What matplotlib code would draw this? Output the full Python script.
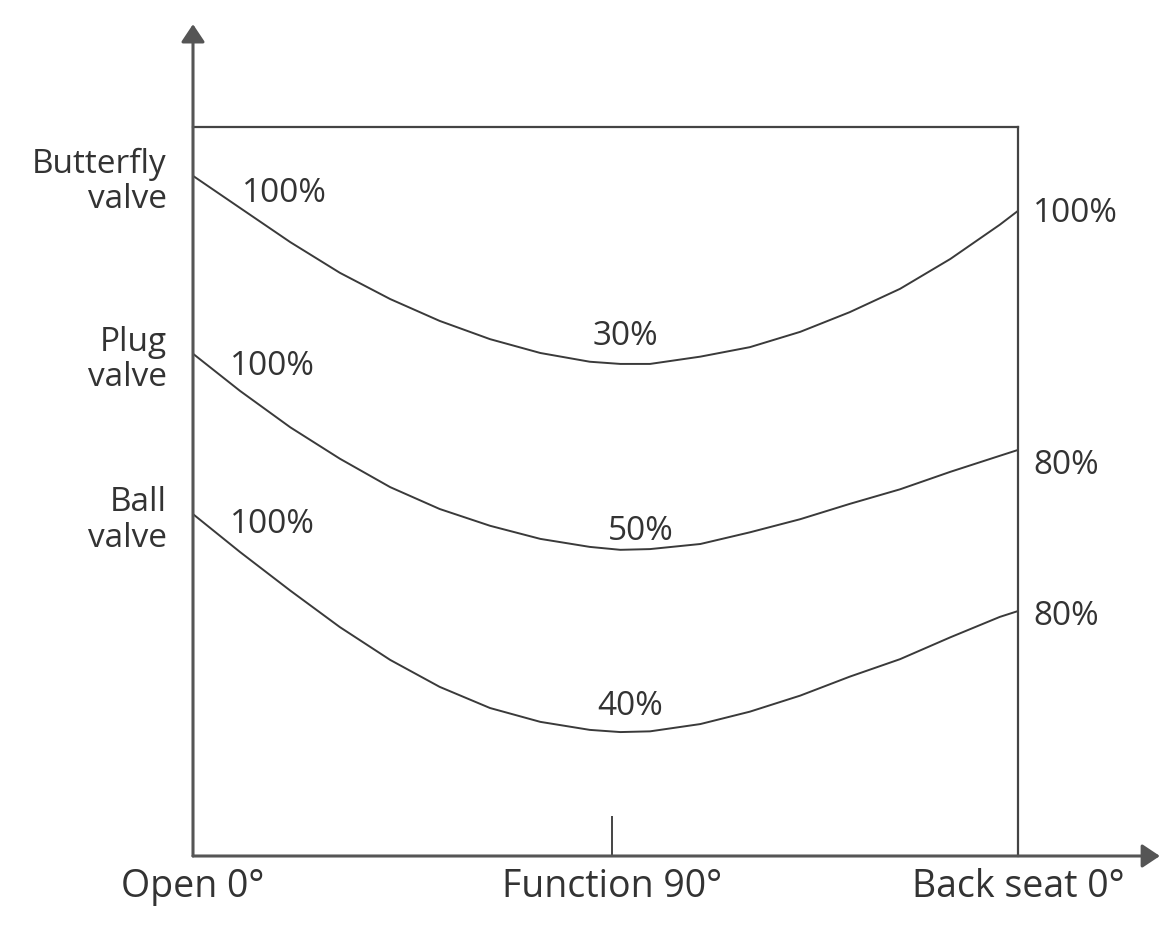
#!/usr/bin/env python3
"""Torque curves of quarter-turn valves over the actuator stroke."""

import matplotlib
matplotlib.use("Agg")
import matplotlib.pyplot as plt

plt.rcParams["font.family"] = ["Open Sans", "DejaVu Sans"]

# stroke position, % of the travel from "Open 0°" to "Back seat 0°"
STROKE = [0, 5.7, 11.8, 17.8, 23.9, 29.9, 36.0, 42.1, 48.1, 51.8,
          55.4, 61.5, 67.5, 73.6, 79.6, 85.7, 91.8, 97.8, 100]

# torque, % of the frame height
BUTTERFLY = [93.3, 88.9, 84.2, 80.0, 76.4, 73.4, 70.9, 69.0, 67.8, 67.5,
             67.5, 68.5, 69.8, 71.9, 74.6, 77.8, 81.9, 86.6, 88.5]
PLUG = [68.9, 63.8, 58.8, 54.5, 50.6, 47.6, 45.3, 43.5, 42.4, 42.0,
        42.1, 42.8, 44.4, 46.2, 48.3, 50.3, 52.7, 54.9, 55.7]
BALL = [46.9, 41.7, 36.4, 31.4, 26.9, 23.2, 20.3, 18.4, 17.3, 17.0,
        17.1, 18.1, 19.8, 22.0, 24.6, 27.0, 30.0, 32.8, 33.6]

VALVES = ["Butterfly\nvalve", "Plug\nvalve", "Ball\nvalve"]
START_PCT = ["100%", "100%", "100%"]
MID_PCT = ["30%", "50%", "40%"]
END_PCT = ["100%", "80%", "80%"]

STROKE_TICKS = [0, 50.8, 100]
STROKE_LABELS = ["Open 0°", "Function 90°", "Back seat 0°"]

TEXT = "#333333"
LINE = "#3a3a3a"


def main():
    fig = plt.figure(figsize=(11.59, 9.37), dpi=100)
    ax = fig.add_axes([193 / 1159, 80 / 937, 825 / 1159, 729 / 937])
    ax.set_xlim(0, 100)
    ax.set_ylim(0, 100)

    curves = [BUTTERFLY, PLUG, BALL]
    for ys in curves:
        ax.plot(STROKE, ys, color=LINE, lw=1.4, solid_joinstyle="round",
                solid_capstyle="round")

    # percentage labels next to start, minimum and end of every curve
    start_off = [(49, -25), (37, -20), (37, -18)]
    mid_off = [(-28, 20), (-12, 11), (-23, 18)]
    end_off = [(15, -10), (15, -23), (15, -13)]
    for i, ys in enumerate(curves):
        imin = ys.index(min(ys))
        spots = [(0, START_PCT[i], start_off[i]),
                 (imin, MID_PCT[i], mid_off[i]),
                 (len(ys) - 1, END_PCT[i], end_off[i])]
        for j, txt, off in spots:
            ax.annotate(txt, (STROKE[j], ys[j]), xytext=off,
                        textcoords="offset pixels", ha="left",
                        va="baseline", fontsize=24, color=TEXT,
                        annotation_clip=False)

    # frame: top and right sides only, the axes are drawn as arrows
    for side in ("top", "right"):
        ax.spines[side].set_color("#444444")
        ax.spines[side].set_linewidth(1.6)
    for side in ("left", "bottom"):
        ax.spines[side].set_visible(False)

    arrow = dict(arrowstyle="-|>,head_length=0.45,head_width=0.3",
                 mutation_scale=24, lw=2.2, color="#555555",
                 shrinkA=0, shrinkB=0)
    ax.annotate("", xy=(0, 1.141), xytext=(0, 0), xycoords="axes fraction",
                arrowprops=arrow, annotation_clip=False)
    ax.annotate("", xy=(1.172, 0), xytext=(0, 0), xycoords="axes fraction",
                arrowprops=arrow, annotation_clip=False)

    ax.set_xticks(STROKE_TICKS, labels=STROKE_LABELS)
    ax.tick_params(axis="x", direction="in", length=29, width=1.4,
                   color="#444444", pad=8, labelsize=27, labelcolor=TEXT)

    ax.set_yticks([ys[0] for ys in curves], labels=VALVES)
    ax.tick_params(axis="y", length=0, pad=19, labelsize=24, labelcolor=TEXT)
    for lab in ax.get_yticklabels():
        lab.set_linespacing(1.1)

    fig.savefig("out.png", dpi=100)


if __name__ == "__main__":
    main()
